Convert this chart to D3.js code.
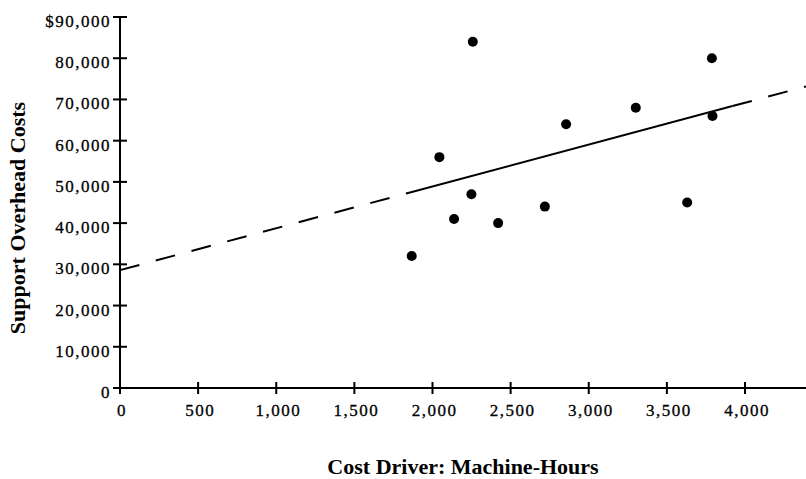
<!DOCTYPE html>
<html>
<head>
<meta charset="utf-8">
<script src="https://cdn.jsdelivr.net/npm/d3@7/dist/d3.min.js"></script>
<style>
  body { margin: 0; background: #fff; }
  svg { display: block; }
  .tick-label { font-family: "Liberation Serif", "Times New Roman", serif; font-size: 17px; letter-spacing: 1.5px; fill: #000; stroke: #000; stroke-width: 0.3px; }
  .axis-title { font-family: "Liberation Serif", "Times New Roman", serif; font-size: 22px; font-weight: bold; fill: #000; }
</style>
</head>
<body>
<div id="chart"></div>
<script>
// machine-hours and support overhead costs
var machineHours = [2258, 3788, 3301, 3792, 2855, 2044, 2249, 2138, 2420, 2719, 3630, 1867];
var overheadCosts = [84000, 80000, 68000, 66000, 64000, 56000, 47000, 41000, 40000, 44000, 45000, 32000];

var xTicks = [0, 500, 1000, 1500, 2000, 2500, 3000, 3500, 4000];
var yTicks = [0, 10000, 20000, 30000, 40000, 50000, 60000, 70000, 80000, 90000];

// fitted line as drawn in the book
var lineIntercept = 28600;
var lineSlope = 10.15;
var solidRange = [1850, 3920];

var width = 806, height = 479;

var x = d3.scaleLinear().domain([0, 4000]).range([120, 745]);
var y = d3.scaleLinear().domain([0, 90000]).range([388, 17]);
var xMax = x.invert(width);

var svg = d3.select('#chart').append('svg')
            .attr('width', width)
            .attr('height', height);

function lineY(h) { return lineIntercept + lineSlope * h; }

function segment(x0, x1) {
  return [[x0, lineY(x0)], [x1, lineY(x1)]];
}

var line = d3.line()
             .x(function(d) { return x(d[0]); })
             .y(function(d) { return y(d[1]); });

// dashed extrapolation on both sides, solid over the data
[segment(0, solidRange[0]), segment(solidRange[1], xMax)].forEach(function(seg) {
  svg.append('path')
     .attr('d', line(seg))
     .attr('fill', 'none')
     .attr('stroke', '#000')
     .attr('stroke-width', 2)
     .attr('stroke-dasharray', '20,17');
});

svg.append('path')
   .attr('d', line(segment(solidRange[0], solidRange[1])))
   .attr('fill', 'none')
   .attr('stroke', '#000')
   .attr('stroke-width', 2);

// axes
svg.append('line')
   .attr('x1', x(0)).attr('x2', x(0))
   .attr('y1', y(0)).attr('y2', y(90000))
   .attr('stroke', '#000').attr('stroke-width', 2);

svg.append('line')
   .attr('x1', x(0)).attr('x2', width)
   .attr('y1', y(0)).attr('y2', y(0))
   .attr('stroke', '#000').attr('stroke-width', 2);

svg.selectAll('.ytick')
   .data(yTicks)
   .enter().append('line')
   .attr('class', 'ytick')
   .attr('x1', x(0) - 7).attr('x2', x(0) + 7)
   .attr('y1', function(d) { return y(d); })
   .attr('y2', function(d) { return y(d); })
   .attr('stroke', '#000').attr('stroke-width', 2);

svg.selectAll('.xtick')
   .data(xTicks)
   .enter().append('line')
   .attr('class', 'xtick')
   .attr('x1', function(d) { return x(d); })
   .attr('x2', function(d) { return x(d); })
   .attr('y1', y(0) - 6).attr('y2', y(0) + 6)
   .attr('stroke', '#000').attr('stroke-width', 2);

var fmt = d3.format(',');

svg.selectAll('.ylabel')
   .data(yTicks)
   .enter().append('text')
   .attr('class', 'tick-label')
   .attr('x', 111)
   .attr('y', function(d) { return y(d) + 10; })
   .attr('text-anchor', 'end')
   .text(function(d) { return (d === 90000 ? '$' : '') + fmt(d); });

svg.selectAll('.xlabel')
   .data(xTicks)
   .enter().append('text')
   .attr('class', 'tick-label')
   .attr('x', function(d) { return x(d) + 2; })
   .attr('y', 416)
   .attr('text-anchor', 'middle')
   .text(function(d) { return fmt(d); });

// points
svg.selectAll('.dot')
   .data(machineHours)
   .enter().append('circle')
   .attr('class', 'dot')
   .attr('cx', function(d) { return x(d); })
   .attr('cy', function(d, i) { return y(overheadCosts[i]); })
   .attr('r', 5)
   .attr('fill', '#000');

svg.append('text')
   .attr('class', 'axis-title')
   .attr('x', 463)
   .attr('y', 474)
   .attr('text-anchor', 'middle')
   .text('Cost Driver: Machine-Hours');

svg.append('text')
   .attr('class', 'axis-title')
   .attr('transform', 'translate(25,218) rotate(-90)')
   .attr('text-anchor', 'middle')
   .text('Support Overhead Costs');
</script>
</body>
</html>
